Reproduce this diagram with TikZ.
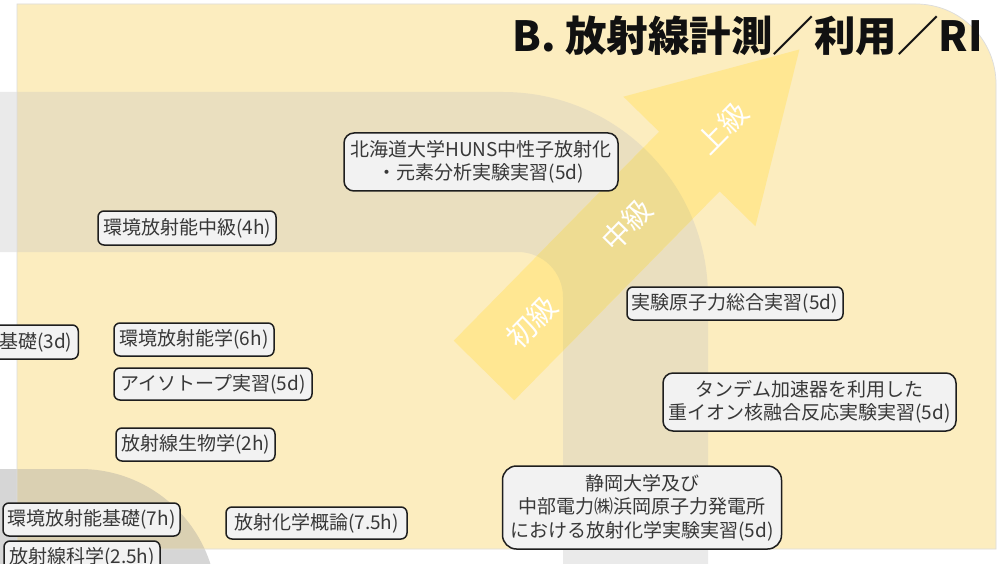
\documentclass[tikz,border=0pt]{standalone}
\usepackage{fontspec}
\newfontfamily\jp{Noto Sans CJK JP}
\definecolor{panel}{HTML}{FCEDBF}
\definecolor{panelline}{HTML}{DCDCDC}
\definecolor{bandW}{HTML}{EAEAEA}
\definecolor{bandY}{HTML}{EADFBF}
\definecolor{llW}{HTML}{D6D6D6}
\definecolor{llY}{HTML}{DAD0B2}
\definecolor{arrowY}{HTML}{FFE792}
\definecolor{arrowB}{HTML}{EEDC92}
\definecolor{boxfill}{HTML}{F2F2F2}
\definecolor{boxline}{HTML}{1E1E1E}
\definecolor{boxtext}{HTML}{383838}
\definecolor{titletext}{HTML}{111111}
\begin{document}
\begin{tikzpicture}[x=1pt,y=-1pt,
  panelpath/.style={insert path={(17,4) -- (916,4) arc[start angle=-90,end angle=0,radius=80] -- (996,549) -- (17,549) -- cycle}},
  bandpath/.style={insert path={(-5,92) -- (503,92) arc[start angle=-90,end angle=0,radius=205] -- (708,570) -- (563,570) -- (563,297) arc[start angle=0,end angle=-90,radius=45] -- (-5,252) -- cycle}},
  llpath/.style={insert path={(-5,469) -- (80,469) arc[start angle=-90,end angle=0,radius=137] -- (217,570) -- (-5,570) -- cycle}},
  arrowpath/.style={insert path={(453.7,340.7) -- (659.1,131.7) -- (623.4,96.7) -- (799.4,49.5) -- (755.4,226.3) -- (719.7,191.3) -- (514.3,400.3) -- cycle}},
  box/.style={draw=boxline, line width=1.5pt, fill=boxfill, text=boxtext, rounded corners=6pt, inner sep=3pt, align=center, font=\jp\fontsize{19pt}{23.5pt}\selectfont},
  levellabel/.style={text=white, rotate=45.5, inner sep=0pt, font=\jp\fontsize{29pt}{29pt}\selectfont},
  titlestyle/.style={text=titletext, inner sep=0pt, font=\jp\bfseries\fontsize{41.5pt}{41.5pt}\selectfont}
]
\useasboundingbox (0,0) rectangle (998,564);
\clip (0,0) rectangle (998,564);
\fill[white] (0,0) rectangle (998,564);
% background shapes
\fill[bandW, bandpath];
\fill[llW, llpath];
\fill[panel, panelpath];
\begin{scope}
  \path[clip, panelpath];
  \fill[bandY, bandpath];
  \fill[llY, llpath];
\end{scope}
\draw[panelline, line width=0.7pt, panelpath];
% level arrow
\fill[arrowY, arrowpath];
\begin{scope}
  \path[clip, arrowpath];
  \fill[arrowB, bandpath];
\end{scope}
\node[levellabel] (lv1) at (531.7,322) {初級};
\node[levellabel] (lv2) at (627,225) {中級};
\node[levellabel] (lv3) at (722.3,128) {上級};
% title
\node[titlestyle, anchor=base east] (title) at (983,52) {B. 放射線計測／利用／RI};
% boxes
\node[box, rounded corners=10pt, minimum width=274pt, minimum height=58pt] (huns) at (481,162) {北海道大学HUNS中性子放射化\\・元素分析実験実習(5d)};
\node[box, minimum width=178pt, minimum height=34pt] (kchu) at (187,228) {環境放射能中級(4h)};
\node[box, anchor=east, minimum width=100pt, minimum height=34pt] (kiso) at (79,342) {\makebox[88pt][r]{基礎(3d)}};
\node[box, minimum width=160pt, minimum height=33pt] (kgaku) at (194,339.5) {環境放射能学(6h)};
\node[box, minimum width=198pt, minimum height=32pt] (iso) at (213,384) {アイソトープ実習(5d)};
\node[box, minimum width=159pt, minimum height=33pt] (bio) at (195.5,444.5) {放射線生物学(2h)};
\node[box, minimum width=177pt, minimum height=33pt] (kkiso) at (91.5,519.5) {環境放射能基礎(7h)};
\node[box, minimum width=156pt, minimum height=33pt] (kagaku) at (82,557.5) {放射線科学(2.5h)};
\node[box, minimum width=181pt, minimum height=32pt] (gairon) at (316.5,523) {放射化学概論(7.5h)};
\node[box, minimum width=216pt, minimum height=33pt] (genshi) at (735,303.5) {実験原子力総合実習(5d)};
\node[box, rounded corners=10pt, minimum width=293pt, minimum height=58pt] (tandem) at (809.5,402) {タンデム加速器を利用した\\重イオン核融合反応実験実習(5d)};
\node[box, rounded corners=14pt, minimum width=279pt, minimum height=83pt] (shizuoka) at (642,507.5) {静岡大学及び\\中部電力㈱浜岡原子力発電所\\における放射化学実験実習(5d)};
\end{tikzpicture}
\end{document}
